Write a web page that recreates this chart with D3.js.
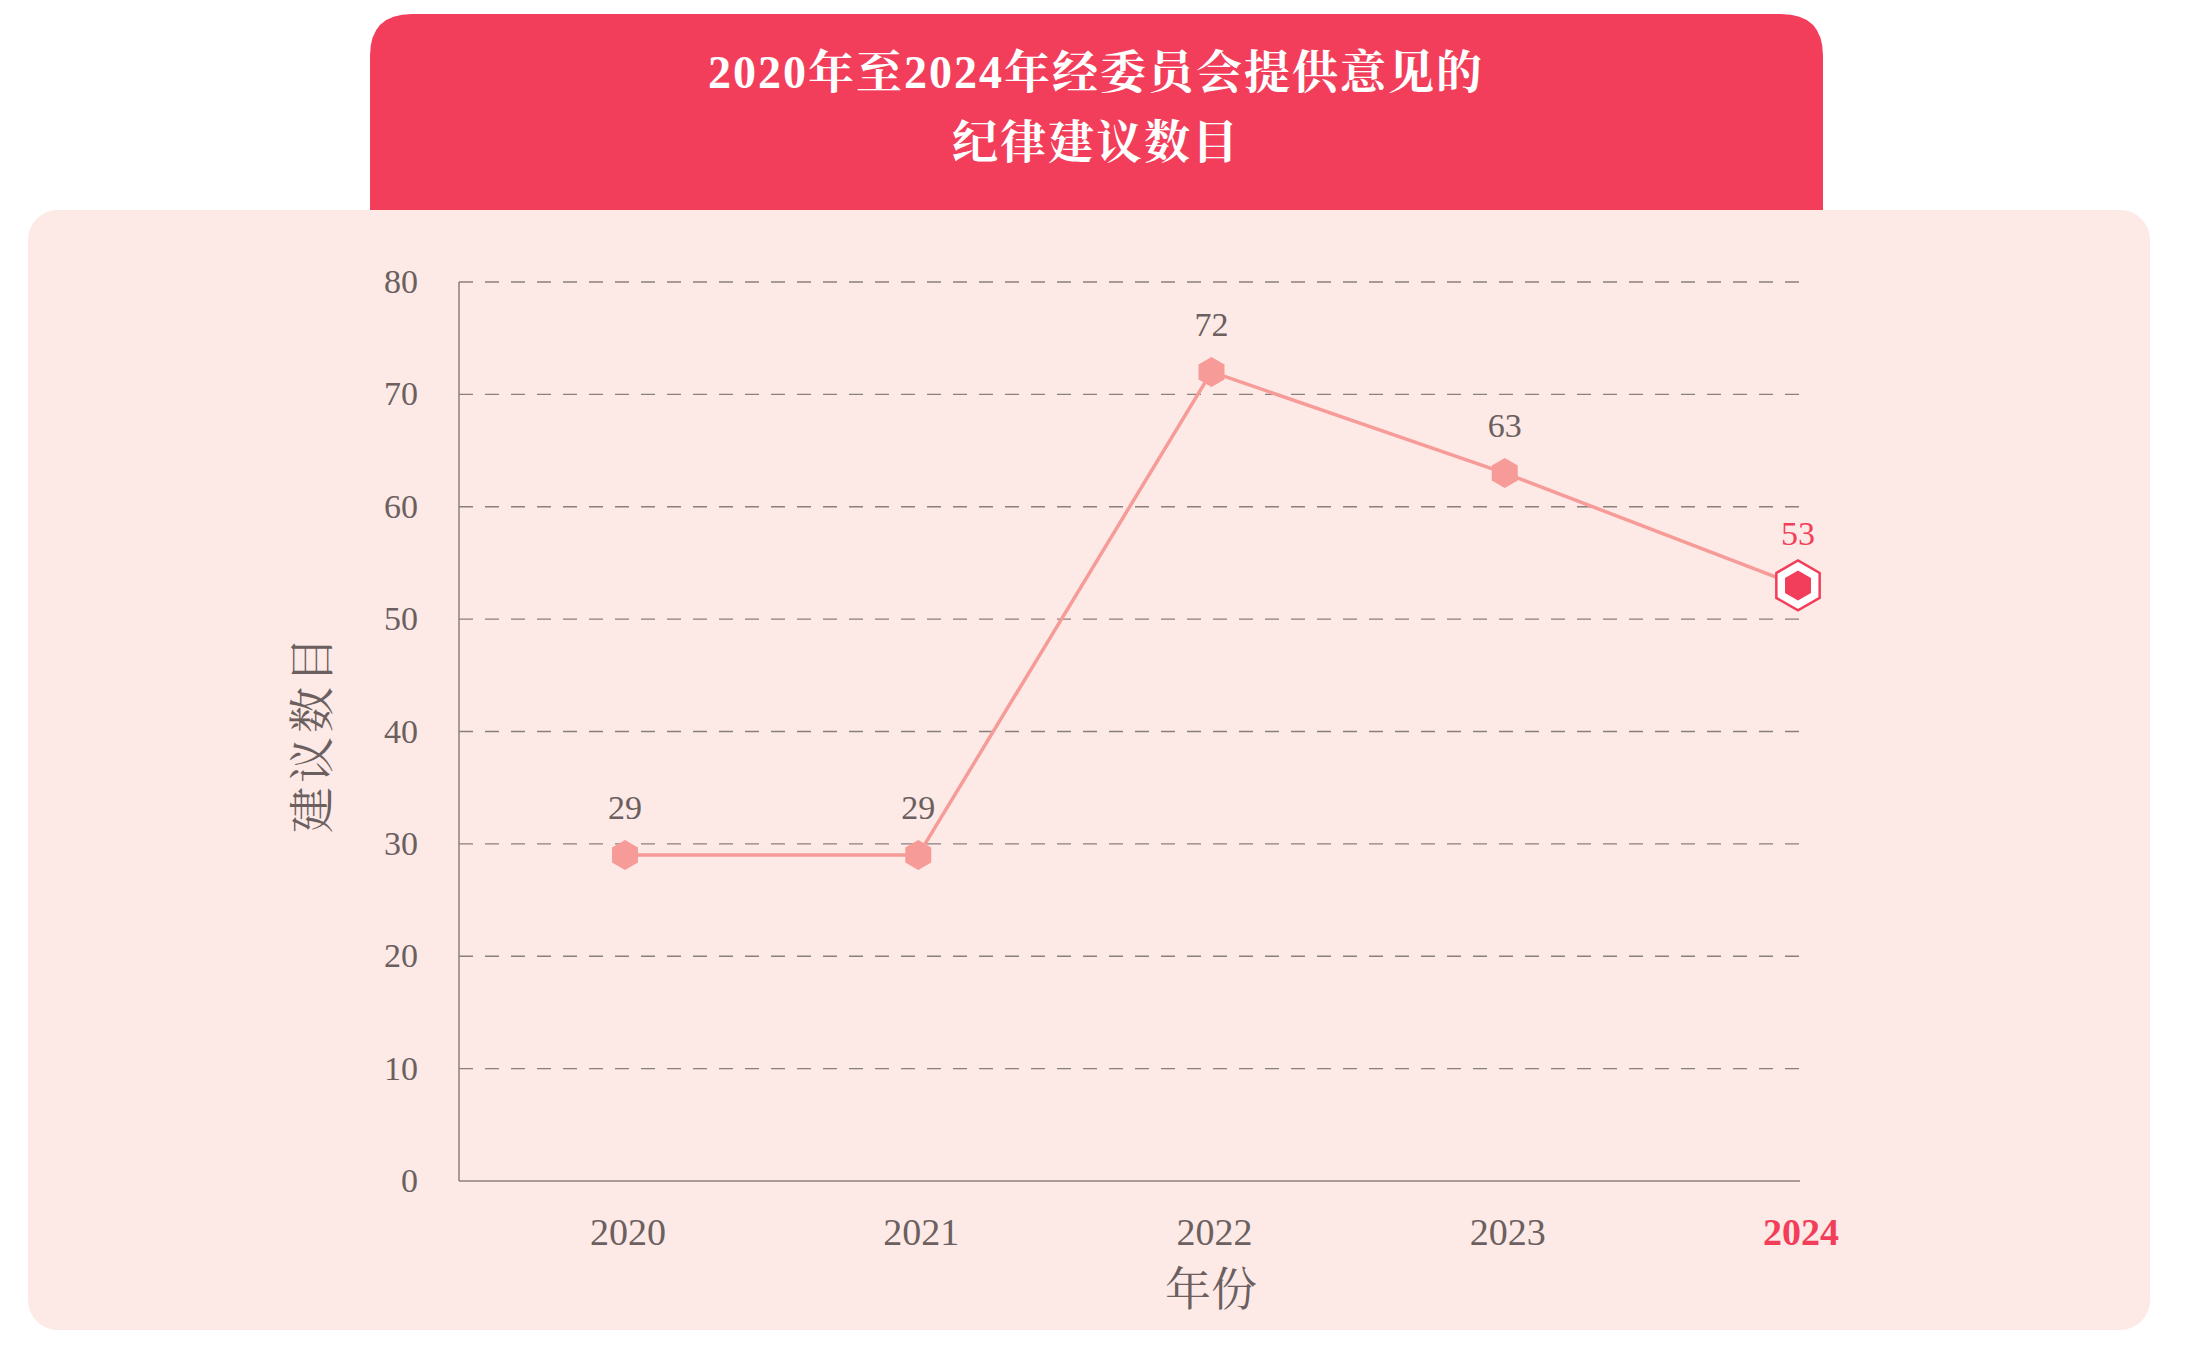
<!DOCTYPE html>
<html><head><meta charset="utf-8">
<script src="https://cdn.jsdelivr.net/npm/d3@7"></script>
<style>body{margin:0;background:#fff}</style></head>
<body><svg id="c" width="2198" height="1349"></svg>
<script>
const years = ["2020","2021","2022","2023","2024"];
const values = [29,29,72,63,53];
const yTicks = [0,10,20,30,40,50,60,70,80];
const titleLines = ["2020年至2024年经委员会提供意见的","纪律建议数目"];
const xTitle = "年份", yTitle = "建议数目";

const svg = d3.select("#c");
const serif = "'Liberation Serif','Noto Serif CJK SC','Noto Sans CJK SC',serif";
const red = "#F23E5A", pink = "#F79B98", grey = "#6b5f5f";

// title box with rounded top corners
const tx0=370, tx1=1823, ty0=14, ty1=212, r=42;
svg.append("path").attr("fill",red)
  .attr("d",`M${tx0},${ty1}V${ty0+r}Q${tx0},${ty0} ${tx0+r},${ty0}H${tx1-r}Q${tx1},${ty0} ${tx1},${ty0+r}V${ty1}Z`);
svg.append("rect").attr("x",28).attr("y",210).attr("width",2122).attr("height",1120)
  .attr("rx",30).attr("fill","#FDE9E5");
titleLines.forEach((t,i)=>svg.append("text").attr("x",1096).attr("y",88+i*70)
  .attr("text-anchor","middle").attr("fill","#fff").attr("font-weight","bold")
  .attr("font-size",46).attr("font-family",serif).attr("letter-spacing",2).text(t));

const x = d3.scalePoint().domain(years).range([625,1798]);
const y = d3.scaleLinear().domain([0,80]).range([1181,282]);
const L=459, R=1800;

const g = svg.append("g");
yTicks.forEach(t=>{
  if(t>0) g.append("line").attr("x1",L).attr("x2",R).attr("y1",y(t)).attr("y2",y(t))
    .attr("stroke","#8a7f7f").attr("stroke-width",1.4).attr("stroke-dasharray","14,12");
  g.append("text").attr("x",418).attr("y",y(t)+11).attr("text-anchor","end")
    .attr("font-size",34).attr("font-family",serif).attr("fill",grey).text(t);
});
g.append("line").attr("x1",L).attr("x2",L).attr("y1",282).attr("y2",1181).attr("stroke","#8a7f7f").attr("stroke-width",1.5);
g.append("line").attr("x1",L).attr("x2",R).attr("y1",1181).attr("y2",1181).attr("stroke","#8a7f7f").attr("stroke-width",1.5);

years.forEach((yr,i)=>g.append("text").attr("x",x(yr)+3).attr("y",1245).attr("text-anchor","middle")
  .attr("font-size",38).attr("font-family",serif).attr("font-weight",i===4?"bold":"normal")
  .attr("fill",i===4?red:grey).text(yr));
svg.append("text").attr("x",1211).attr("y",1305).attr("text-anchor","middle").attr("font-size",46)
  .attr("font-family",serif).attr("fill",grey).text(xTitle);
svg.append("text").attr("transform","translate(328,733) rotate(-90)").attr("text-anchor","middle")
  .attr("font-size",46).attr("font-family",serif).attr("fill",grey).attr("letter-spacing",4).text(yTitle);

const data = years.map((yr,i)=>({yr,v:values[i]}));
g.append("path").datum(data).attr("fill","none").attr("stroke",pink).attr("stroke-width",3.5)
  .attr("d",d3.line().x(d=>x(d.yr)).y(d=>y(d.v)));
const hex = rad => d3.range(6).map(k=>{const a=Math.PI/3*k+Math.PI/6;return [rad*Math.cos(a),rad*Math.sin(a)];});
const hexPath = rad => "M"+hex(rad).join("L")+"Z";
data.forEach((d,i)=>{
  const gg = g.append("g").attr("transform",`translate(${x(d.yr)},${y(d.v)})`);
  if(i===4){
    gg.append("path").attr("d",hexPath(25)).attr("fill","#fff").attr("stroke",red).attr("stroke-width",2.5);
    gg.append("path").attr("d",hexPath(15)).attr("fill",red);
  } else gg.append("path").attr("d",hexPath(15)).attr("fill",pink);
  g.append("text").attr("x",x(d.yr)).attr("y",y(d.v)-(i===4?40:36)).attr("text-anchor","middle")
    .attr("font-size",34).attr("font-family",serif).attr("fill",i===4?red:grey).text(d.v);
});
</script></body></html>
